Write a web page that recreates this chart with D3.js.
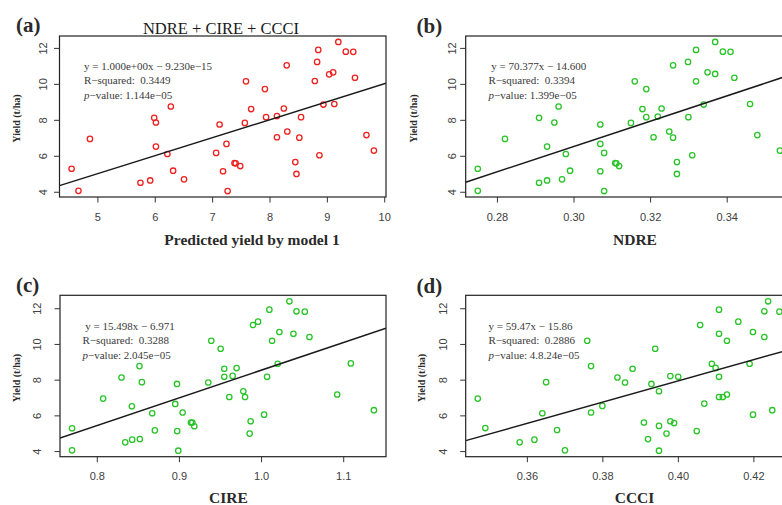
<!DOCTYPE html>
<html>
<head>
<meta charset="utf-8">
<script src="https://cdn.jsdelivr.net/npm/d3@7"></script>
<style>
  body { margin: 0; background: #fff; }
  svg { display: block; }
  .eq { font-family: "Liberation Serif", "Times New Roman", serif; font-size: 11px; fill: #3a3a3a; white-space: pre; }
  .tick text { font-family: "Liberation Sans", Arial, sans-serif; font-size: 11px; fill: #404040; }
  .tick line { stroke: #333; stroke-width: 1; }
  .lab { font-family: "Liberation Serif", "Times New Roman", serif; font-weight: bold; fill: #2a2a2a; }
</style>
</head>
<body>
<svg id="chart" width="782" height="505"></svg>
<script>
// yield vs predicted / index values
var aX = [4.55,4.67,4.87,5.75,5.92,5.99,6.02,6.02,6.22,6.28,6.32,6.51,7.07,7.13,7.19,7.25,7.27,7.39,7.41,7.49,7.57,7.59,7.68,7.92,7.94,8.13,8.13,8.25,8.30,8.31,8.45,8.47,8.52,8.55,8.79,8.83,8.85,8.87,8.94,9.04,9.11,9.13,9.20,9.33,9.46,9.49,9.69,9.82];
var aY = [5.28,4.05,6.94,4.50,4.63,8.11,7.85,6.51,6.10,8.74,5.17,4.69,6.16,7.74,5.14,6.66,4.04,5.60,5.58,5.43,7.83,10.14,8.60,9.71,8.15,8.21,7.03,8.63,11.03,7.35,5.65,4.99,7.01,8.15,10.16,11.22,11.89,6.03,8.85,10.53,10.64,8.88,12.33,11.79,11.78,10.34,7.15,6.29];

var bX = [0.2750,0.2750,0.2821,0.2910,0.2910,0.2931,0.2931,0.2950,0.2961,0.2970,0.2980,0.2991,0.3070,0.3070,0.3070,0.3080,0.3080,0.3109,0.3112,0.3119,0.3150,0.3160,0.3180,0.3190,0.3190,0.3209,0.3220,0.3230,0.3250,0.3260,0.3260,0.3270,0.3270,0.3299,0.3300,0.3310,0.3320,0.3320,0.3340,0.3350,0.3370,0.3370,0.3390,0.3410,0.3420,0.3461,0.3480,0.3539];
var bY = [5.28,4.05,6.94,4.50,8.11,4.63,6.51,7.85,8.74,4.69,6.10,5.17,7.74,6.66,5.14,6.16,4.04,5.60,5.58,5.43,7.83,10.14,8.60,9.71,8.15,7.03,8.18,8.63,7.35,11.03,7.01,5.65,4.99,11.22,8.15,6.03,11.89,10.14,8.85,10.64,10.55,12.33,11.79,11.78,10.34,8.88,7.15,6.29];

var cX = [0.7699,0.7699,0.8077,0.8301,0.8346,0.8427,0.8431,0.8520,0.8524,0.8549,0.8675,0.8707,0.8955,0.8976,0.8979,0.8992,0.9045,0.9146,0.9163,0.9187,0.9357,0.9394,0.9508,0.9552,0.9552,0.9613,0.9654,0.9702,0.9784,0.9805,0.9861,0.9873,0.9902,0.9963,1.0037,1.0073,1.0101,1.0134,1.0203,1.0223,1.0345,1.0394,1.0431,1.0532,1.0589,1.0927,1.1093,1.1374];
var cY = [5.28,4.04,6.94,8.12,4.49,6.51,4.64,8.76,4.67,7.86,6.12,5.16,6.64,7.76,5.12,4.02,6.16,5.60,5.60,5.39,7.84,10.18,9.73,8.61,8.16,7.03,8.21,8.65,7.35,7.03,4.98,5.67,11.06,11.25,6.04,8.16,11.92,10.18,8.89,10.67,12.39,10.57,11.83,11.81,10.39,7.17,8.91,6.29];

var dX = [0.3470,0.3490,0.3581,0.3620,0.3641,0.3651,0.3680,0.3701,0.3760,0.3770,0.3770,0.3800,0.3840,0.3860,0.3880,0.3910,0.3921,0.3930,0.3940,0.3950,0.3950,0.3950,0.3970,0.3980,0.3980,0.3990,0.4001,0.4050,0.4059,0.4070,0.4090,0.4100,0.4109,0.4109,0.4109,0.4109,0.4119,0.4130,0.4130,0.4160,0.4190,0.4199,0.4199,0.4229,0.4229,0.4239,0.4250,0.4269];
var dY = [6.94,5.29,4.49,4.64,6.12,7.86,5.18,4.04,10.18,8.76,6.16,6.53,8.12,7.84,8.61,5.60,4.67,7.76,9.73,7.35,5.41,4.02,4.98,8.20,5.67,5.57,8.16,5.12,11.06,6.66,8.89,8.66,11.92,10.57,8.16,7.03,7.03,10.18,7.17,11.25,8.89,10.67,6.04,11.83,10.39,12.39,6.29,11.81];

// fit lines (slope, intercept) as printed on each panel
var aFit = [1.000, -9.230e-15];
var bFit = [70.377, -14.600];
var cFit = [15.498, -6.971];
var dFit = [59.47, -15.86];

var yTicks = [4, 6, 8, 10, 12];
var aTicks = [5, 6, 7, 8, 9, 10];
var bTicks = [0.28, 0.30, 0.32, 0.34];
var cTicks = [0.8, 0.9, 1.0, 1.1];
var dTicks = [0.36, 0.38, 0.40, 0.42];

var aEq = ["y = 1.000e+00x \u2212 9.230e\u221215", "R\u2212squared:  0.3449", "\u2212value: 1.144e\u221205"];
var bEq = [" y = 70.377x \u2212 14.600", "R\u2212squared:  0.3394", "\u2212value: 1.399e\u221205"];
var cEq = [" y = 15.498x \u2212 6.971", "R\u2212squared:  0.3288", "\u2212value: 2.045e\u221205"];
var dEq = ["y = 59.47x \u2212 15.86", "R\u2212squared:  0.2886", "\u2212value: 4.8.24e\u221205"];

var red = "#ee2020", green = "#2ac42a";

var panels = [
  {k: "a", xs: aX, ys: aY, fit: aFit, ticks: aTicks, fmt: d3.format("d"), eq: aEq, col: red,
   box: [59.5, 386, 36, 197], eqX: 84, eqY: 69.5, tagX: 16, tagY: 32, xlab: "Predicted yield by model 1",
   xlabX: 252, xlabY: 245, xlabSize: 15.5, ylabX: 19.5, tOff: 12.8},
  {k: "b", xs: bX, ys: bY, fit: bFit, ticks: bTicks, fmt: d3.format(".2f"), eq: bEq, col: green,
   box: [465.7, 792, 36, 197], eqX: 488.5, eqY: 69.5, tagX: 416.5, tagY: 33, xlab: "NDRE",
   xlabX: 635, xlabY: 245, xlabSize: 15.5, ylabX: 416.5, tOff: 9.7},
  {k: "c", xs: cX, ys: cY, fit: cFit, ticks: cTicks, fmt: d3.format(".1f"), eq: cEq, col: green,
   box: [60, 386, 295.3, 456.7], eqX: 82.5, eqY: 329.5, tagX: 16, tagY: 291.5, xlab: "CIRE",
   xlabX: 228.5, xlabY: 503, xlabSize: 15.5, ylabX: 19.5, tOff: 19.3},
  {k: "d", xs: dX, ys: dY, fit: dFit, ticks: dTicks, fmt: d3.format(".2f"), eq: dEq, col: green,
   box: [465.7, 791.5, 295.3, 456.7], eqX: 488.5, eqY: 329.5, tagX: 416.5, tagY: 293, xlab: "CCCI",
   xlabX: 634.5, xlabY: 503, xlabSize: 15.5, ylabX: 425, tOff: 18.7}
];

var svg = d3.select("#chart");
svg.append("rect").attr("width", 782).attr("height", 505).attr("fill", "#fff");

// R-like axis range: data extent padded by 4%
function padded(v) {
  var e = d3.extent(v), p = (e[1] - e[0]) * 0.04;
  return [e[0] - p, e[1] + p];
}

panels.forEach(function(p) {
  var b = p.box;
  var x = d3.scaleLinear().domain(padded(p.xs)).range([b[0], b[1]]);
  var y = d3.scaleLinear().domain(padded(p.ys)).range([b[3], b[2]]);
  var pts = p.xs.map(function(v, i) { return {x: v, y: p.ys[i]}; });

  svg.append("clipPath").attr("id", "clip-" + p.k)
    .append("rect").attr("x", b[0]).attr("y", b[2])
    .attr("width", b[1] - b[0]).attr("height", b[3] - b[2]);

  var g = svg.append("g").attr("clip-path", "url(#clip-" + p.k + ")");

  g.selectAll("circle").data(pts).enter().append("circle")
    .attr("cx", d => x(d.x))
    .attr("cy", d => y(d.y))
    .attr("r", 2.7)
    .attr("fill", "none")
    .attr("stroke", p.col)
    .attr("stroke-width", 1.3);

  var xd = x.domain();
  var line = d3.line().x(d => x(d)).y(d => y(p.fit[0] * d + p.fit[1]));
  g.append("path").datum(xd).attr("d", line)
    .attr("fill", "none").attr("stroke", "#1a1a1a").attr("stroke-width", 1.5);

  // frame
  svg.append("rect").attr("x", b[0]).attr("y", b[2])
    .attr("width", b[1] - b[0]).attr("height", b[3] - b[2])
    .attr("fill", "none").attr("stroke", "#222").attr("stroke-width", 1.2);

  // x axis
  var xa = svg.append("g").attr("transform", "translate(0," + b[3] + ")")
    .call(d3.axisBottom(x).tickValues(p.ticks).tickFormat(p.fmt).tickSize(5.5));
  xa.select(".domain").remove();
  xa.selectAll(".tick text").attr("y", 23.5).attr("dy", 0);

  // y axis, labels turned like R's default
  var ya = svg.append("g").attr("transform", "translate(" + b[0] + ",0)")
    .call(d3.axisLeft(y).tickValues(yTicks).tickSize(5.5));
  ya.select(".domain").remove();
  ya.selectAll(".tick text")
    .attr("transform", "rotate(-90)")
    .attr("x", 0).attr("y", -p.tOff).attr("dy", 0)
    .attr("text-anchor", "middle");

  // fit statistics
  var t = svg.append("text").attr("class", "eq").attr("x", p.eqX).attr("y", p.eqY);
  t.append("tspan").attr("x", p.eqX).attr("y", p.eqY).text(p.eq[0]);
  t.append("tspan").attr("x", p.eqX).attr("y", p.eqY + 14.5).text(p.eq[1]);
  t.append("tspan").attr("x", p.eqX).attr("y", p.eqY + 29).attr("font-style", "italic").text("p");
  t.append("tspan").text(p.eq[2]);

  // panel tag
  svg.append("text").attr("class", "lab").attr("x", p.tagX).attr("y", p.tagY)
    .attr("font-size", "21px").attr("fill", "#111").text("(" + p.k + ")");

  // axis titles
  svg.append("text").attr("class", "lab").attr("x", p.xlabX).attr("y", p.xlabY)
    .attr("text-anchor", "middle").attr("font-size", p.xlabSize + "px").text(p.xlab);

  svg.append("text").attr("class", "lab")
    .attr("transform", "translate(" + p.ylabX + "," + ((b[2] + b[3]) / 2 + 2) + ") rotate(-90)")
    .attr("text-anchor", "middle").attr("font-size", "10px").text("Yield (t/ha)");
});

svg.append("text")
  .attr("x", 221).attr("y", 34)
  .attr("text-anchor", "middle")
  .attr("font-family", "'Liberation Serif', 'Times New Roman', serif")
  .attr("font-size", "16.5px")
  .attr("fill", "#1a1a1a")
  .text("NDRE + CIRE + CCCI");
</script>
</body>
</html>
